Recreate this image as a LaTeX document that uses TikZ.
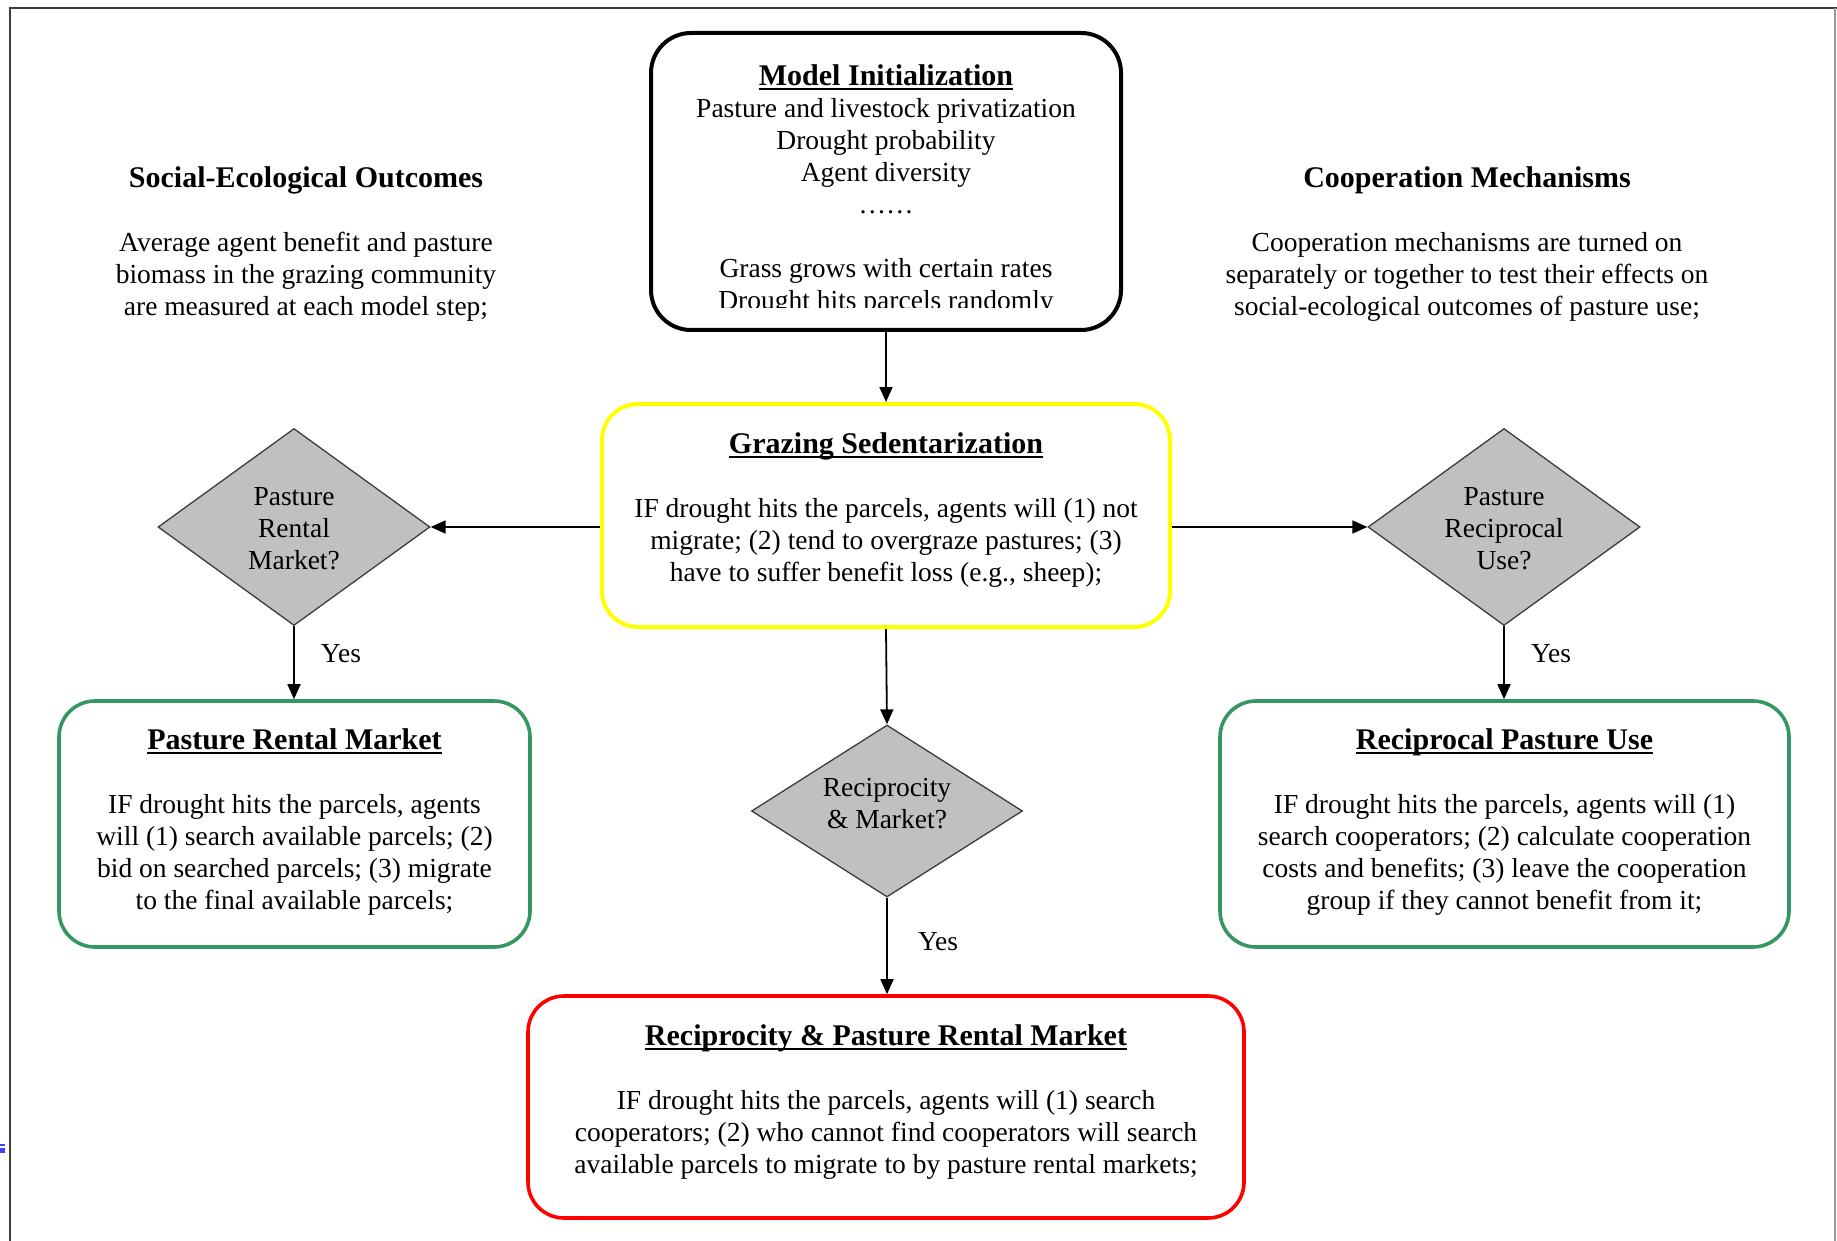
\documentclass[tikz,border=0pt]{standalone}
\usepackage{fontspec}
\setmainfont{Liberation Serif}
\usetikzlibrary{arrows.meta,shapes.geometric}
\definecolor{boxgreen}{RGB}{52,150,98}
\definecolor{boxyellow}{RGB}{255,255,0}
\definecolor{boxred}{RGB}{255,0,0}
\definecolor{dfill}{RGB}{192,192,192}
\definecolor{dline}{RGB}{60,60,60}
\definecolor{framegray}{RGB}{60,60,60}
\newsavebox{\ttlbox}
\newcommand{\ttl}[1]{\sbox{\ttlbox}{\fontsize{30}{32}\selectfont\bfseries #1}\rlap{\rule[-4.5pt]{\wd\ttlbox}{2.4pt}}\usebox{\ttlbox}}
\newcommand{\sttl}[1]{\hbox{\fontsize{30}{32}\selectfont\bfseries #1}}
\tikzset{
  rbox/.style={draw, rounded corners=36pt, line width=4pt, fill=white},
  txt/.style={align=center, inner sep=0pt},
  dec/.style={diamond, draw=dline, fill=dfill, line width=1.3pt, inner sep=0pt},
  arr/.style={line width=1.8pt, -{Triangle[length=15pt,width=13pt]}},
  yeslbl/.style={inner sep=0pt}
}
\begin{document}
\begin{tikzpicture}[x=1pt,y=-1pt,font=\fontsize{27.5}{32}\selectfont]
\fill[white] (0,0) rectangle (1837,1241);
\useasboundingbox (0,0) rectangle (1837,1241);
% page frame
\draw[framegray, line width=2pt] (10,1241) -- (10,8) -- (1837,8);
\draw[gray!80, line width=2pt] (1835,8) -- (1835,1241);
\fill[blue!75] (0,1144) rectangle (5,1146);
\fill[blue!75] (0,1148) rectangle (5,1153);

% side texts
\node[txt] (seo) at (306,244) {\sttl{Social-Ecological Outcomes}\\[32pt]
Average agent benefit and pasture\\ biomass in the grazing community\\ are measured at each model step;};
\node[txt] (coop) at (1467,244) {\sttl{Cooperation Mechanisms}\\[32pt]
Cooperation mechanisms are turned on\\ separately or together to test their effects on\\ social-ecological outcomes of pasture use;};

% boxes
\node[rbox, draw=black, rounded corners=40pt, minimum width=470, minimum height=297] (init) at (886,181.5) {};
\begin{scope}
\clip (640,20) rectangle (1130,308);
\node[txt] (inittxt) at (886,190.5) {\ttl{Model Initialization}\\ Pasture and livestock privatization\\ Drought probability\\ Agent diversity\\ ……\\[32pt] Grass grows with certain rates\\ Drought hits parcels randomly};
\end{scope}

\node[rbox, draw=boxyellow, minimum width=568, minimum height=223] (graz) at (886,515.5) {};
\node[txt] (graztxt) at (886,510) {\ttl{Grazing Sedentarization}\\[32pt]
IF drought hits the parcels, agents will (1) not\\ migrate; (2) tend to overgraze pastures; (3)\\ have to suffer benefit loss (e.g., sheep);};

\node[rbox, draw=boxgreen, line width=3.6pt, minimum width=471, minimum height=246] (gL) at (294.5,824) {};
\node[txt] (gLtxt) at (294.5,822) {\ttl{Pasture Rental Market}\\[32pt]
IF drought hits the parcels, agents\\ will (1) search available parcels; (2)\\ bid on searched parcels; (3) migrate\\ to the final available parcels;};

\node[rbox, draw=boxgreen, line width=3.6pt, minimum width=569, minimum height=246] (gR) at (1504.5,824) {};
\node[txt] (gRtxt) at (1504.5,822) {\ttl{Reciprocal Pasture Use}\\[32pt]
IF drought hits the parcels, agents will (1)\\ search cooperators; (2) calculate cooperation\\ costs and benefits; (3) leave the cooperation\\ group if they cannot benefit from it;};

\node[rbox, draw=boxred, line width=3.6pt, minimum width=716, minimum height=222] (red) at (886,1107) {};
\node[txt] (redtxt) at (886,1102) {\ttl{Reciprocity \& Pasture Rental Market}\\[32pt]
IF drought hits the parcels, agents will (1) search\\ cooperators; (2) who cannot find cooperators will search\\ available parcels to migrate to by pasture rental markets;};

% diamonds
\node[dec, minimum width=272, minimum height=197, aspect=1.38] (dL) at (294,527) {};
\node[txt] (dLtxt) at (294,529) {Pasture\\ Rental\\ Market?};
\node[dec, minimum width=272, minimum height=197, aspect=1.38] (dR) at (1504,527) {};
\node[txt] (dRtxt) at (1504,529) {Pasture\\ Reciprocal\\ Use?};
\node[dec, minimum width=271, minimum height=172, aspect=1.58] (dM) at (887,811) {};
\node[txt] (dMtxt) at (887,803.5) {Reciprocity\\ \& Market?};

% connectors
\draw[arr] (init.south) -- (init.south |- graz.north);
\draw[arr] (dL.east -| graz.west) -- (dL.east);
\draw[arr] (dR.west -| graz.east) -- (dR.west);
\draw[arr] (graz.south) -- (dM.north);
\draw[arr] (dL.south) -- (dL.south |- gL.north);
\draw[arr] (dR.south) -- (dR.south |- gR.north);
\draw[arr] (dM.south) -- (dM.south |- red.north);

% yes labels
\node[yeslbl] (yL) at (341,654) {Yes};
\node[yeslbl] (yR) at (1551,654) {Yes};
\node[yeslbl] (yM) at (938,942) {Yes};
\end{tikzpicture}
\end{document}
